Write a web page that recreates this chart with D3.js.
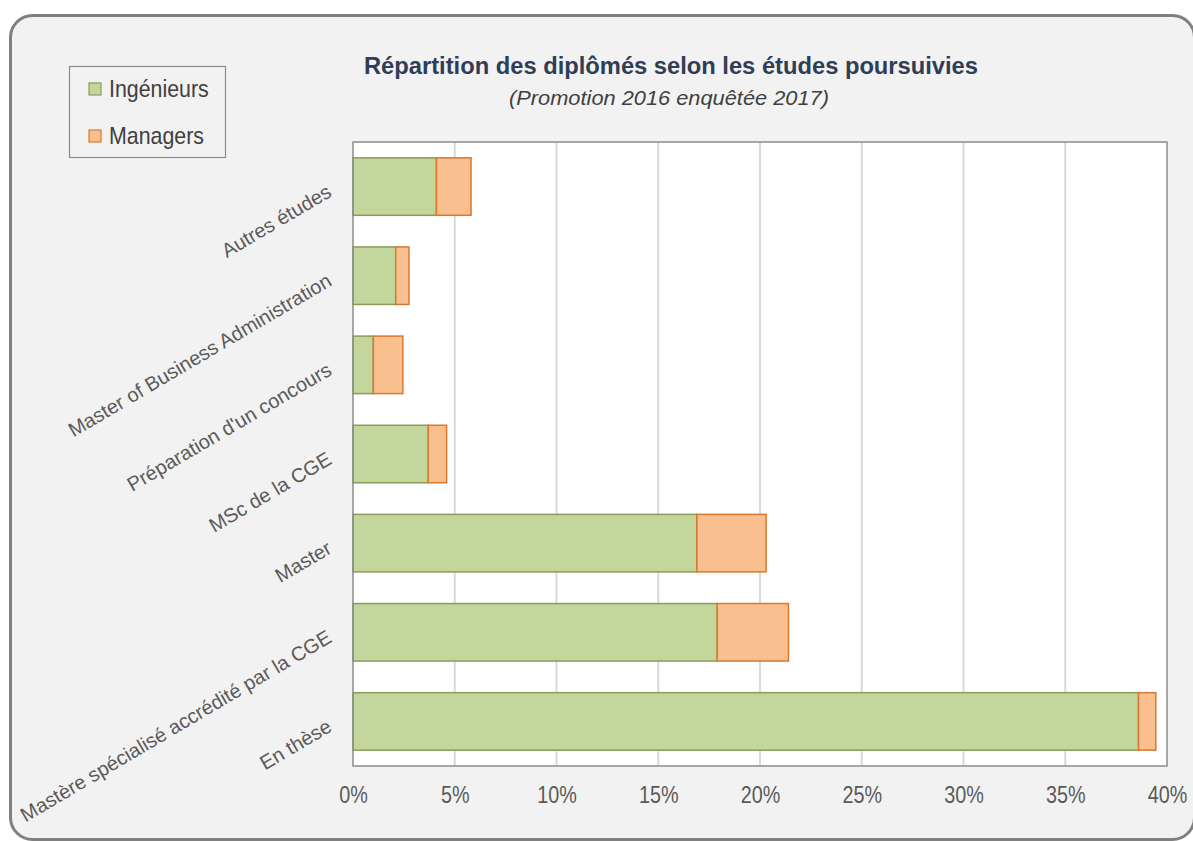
<!DOCTYPE html>
<html>
<head>
<meta charset="utf-8">
<script src="https://cdn.jsdelivr.net/npm/d3@7"></script>
<style>
  html, body { margin: 0; padding: 0; background: #ffffff; overflow: hidden; }
  svg { display: block; }
  text { font-family: "Liberation Sans", Arial, sans-serif; }
</style>
</head>
<body>
<svg id="chart" width="1193" height="841"></svg>
<script>
const categories = [
  "Autres études",
  "Master of Business Administration",
  "Préparation d'un concours",
  "MSc de la CGE",
  "Master",
  "Mastère spécialisé accrédité par la CGE",
  "En thèse"
];
const ingenieurs = [4.1, 2.1, 1.0, 3.7, 16.9, 17.9, 38.6];
const managers   = [1.7, 0.65, 1.45, 0.9, 3.4, 3.5, 0.85];
const seriesNames = ["Ingénieurs", "Managers"];
const xTicks = [0, 5, 10, 15, 20, 25, 30, 35, 40];
const title = "Répartition des diplômés selon les études poursuivies";
const subtitle = "(Promotion 2016 enquêtée 2017)";

const svg = d3.select("#chart");

// outer frame
svg.append("rect")
  .attr("x", 10.5).attr("y", 15.5)
  .attr("width", 1184).attr("height", 824)
  .attr("rx", 22).attr("ry", 22)
  .attr("fill", "#f2f2f2")
  .attr("stroke", "#808080").attr("stroke-width", 3);

const plot = { left: 353, right: 1167, top: 142, bottom: 766 };

const x = d3.scaleLinear().domain([0, 40]).range([plot.left, plot.right]);
const y = d3.scaleBand().domain(categories)
  .range([plot.top, plot.bottom])
  .paddingInner(0.355).paddingOuter(0.1775);

// plot background
svg.append("rect")
  .attr("x", plot.left).attr("y", plot.top)
  .attr("width", plot.right - plot.left).attr("height", plot.bottom - plot.top)
  .attr("fill", "#ffffff");

// gridlines
svg.append("g")
  .selectAll("line")
  .data(xTicks.slice(1, -1))
  .join("line")
  .attr("x1", d => x(d)).attr("x2", d => x(d))
  .attr("y1", plot.top).attr("y2", plot.bottom)
  .attr("stroke", "#d9d9d9").attr("stroke-width", 2);

// stacked data
const rows = categories.map((c, i) => ({ cat: c, Ingénieurs: ingenieurs[i], Managers: managers[i] }));
const stack = d3.stack().keys(seriesNames)(rows);
const fills = { "Ingénieurs": "#c3d69b", "Managers": "#fabf8f" };
const strokes = { "Ingénieurs": "#8a9b5a", "Managers": "#d9782e" };

svg.append("g")
  .selectAll("g")
  .data(stack)
  .join("g")
  .attr("fill", d => fills[d.key])
  .attr("stroke", d => strokes[d.key])
  .attr("stroke-width", 1.5)
  .selectAll("rect")
  .data(d => d)
  .join("rect")
  .attr("x", d => x(d[0]))
  .attr("y", d => y(d.data.cat))
  .attr("width", d => x(d[1]) - x(d[0]))
  .attr("height", y.bandwidth());

// plot border
svg.append("rect")
  .attr("x", plot.left).attr("y", plot.top)
  .attr("width", plot.right - plot.left).attr("height", plot.bottom - plot.top)
  .attr("fill", "none")
  .attr("stroke", "#8c8c8c").attr("stroke-width", 1.5);

// x axis
const xAxis = d3.axisBottom(x).tickValues(xTicks).tickFormat(d => d + "%").tickSize(0).tickPadding(21);
const gx = svg.append("g").attr("transform", `translate(0,${plot.bottom})`).call(xAxis);
gx.select(".domain").remove();
gx.selectAll("text")
  .attr("fill", "#595959")
  .style("font-size", "23px")
  .attr("transform", "scale(0.86,1)");

// y axis labels (rotated)
const yAxis = d3.axisLeft(y).tickSize(0).tickPadding(0);
const gy = svg.append("g").attr("transform", `translate(${plot.left},0)`).call(yAxis);
gy.select(".domain").remove();
gy.selectAll(".tick text")
  .attr("fill", "#595959")
  .style("font-size", "20px")
  .attr("text-anchor", "end")
  .attr("x", null).attr("dy", null)
  .attr("transform", "translate(-20,9) rotate(-30.5)");

// title
svg.append("text")
  .attr("x", 671).attr("y", 74)
  .attr("text-anchor", "middle")
  .attr("fill", "#2f3d57")
  .style("font-size", "23px").style("font-weight", "bold")
  .attr("textLength", 614).attr("lengthAdjust", "spacingAndGlyphs")
  .text(title);
svg.append("text")
  .attr("x", 669).attr("y", 105)
  .attr("text-anchor", "middle")
  .attr("fill", "#404040")
  .style("font-size", "20px").style("font-style", "italic")
  .attr("textLength", 320).attr("lengthAdjust", "spacingAndGlyphs")
  .text(subtitle);

// legend
const leg = svg.append("g");
leg.append("rect")
  .attr("x", 69.5).attr("y", 66.5).attr("width", 156).attr("height", 91)
  .attr("fill", "#f2f2f2").attr("stroke", "#8c8c8c").attr("stroke-width", 1.2);
const legItems = leg.selectAll("g.item")
  .data(seriesNames)
  .join("g").attr("class", "item")
  .attr("transform", (d, i) => `translate(89,${89 + i * 47})`);
legItems.append("rect")
  .attr("x", 0).attr("y", -6).attr("width", 12).attr("height", 12)
  .attr("fill", d => fills[d]).attr("stroke", d => strokes[d]).attr("stroke-width", 1.2);
legItems.append("text")
  .attr("x", 0).attr("y", 0)
  .attr("transform", "translate(20,7.5) scale(0.89,1)")
  .attr("fill", "#404040")
  .style("font-size", "24px")
  .text(d => d);
</script>
</body>
</html>
